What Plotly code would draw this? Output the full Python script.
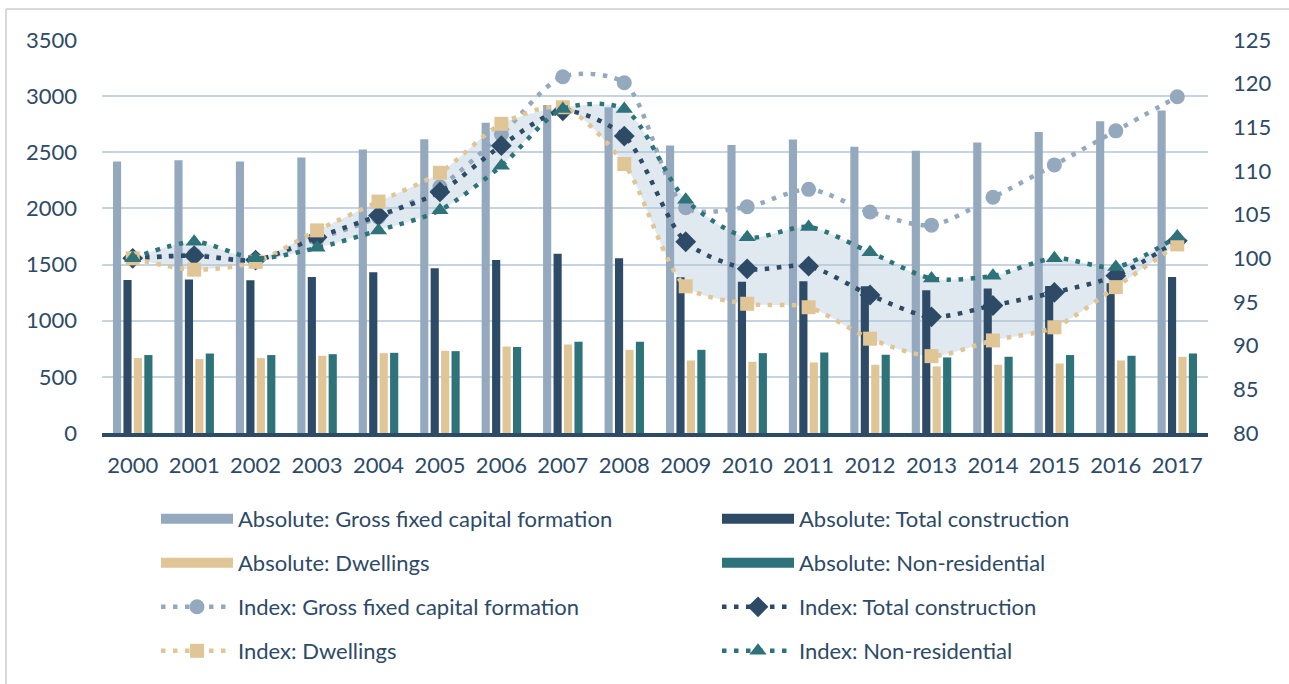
import plotly.graph_objects as go

years = [str(y) for y in range(2000, 2018)]

abs_gfcf = [2418, 2430, 2418, 2454, 2525, 2617, 2762, 2922, 2902, 2561, 2564, 2614, 2549, 2513, 2588, 2680, 2777, 2872]
abs_total = [1363, 1366, 1360, 1390, 1431, 1467, 1541, 1597, 1556, 1387, 1346, 1352, 1307, 1271, 1286, 1310, 1334, 1390]
abs_dw = [667, 658, 667, 688, 711, 732, 771, 788, 741, 646, 634, 628, 608, 593, 608, 619, 646, 679]
abs_nr = [694, 708, 694, 702, 714, 729, 765, 812, 812, 741, 711, 717, 697, 673, 679, 694, 688, 708]

idx_gfcf = [100.0, 100.4, 99.8, 102.2, 104.7, 108.2, 114.2, 120.8, 120.1, 105.8, 105.9, 107.9, 105.3, 103.8, 107.0, 110.7, 114.6, 118.5]
idx_total = [100.0, 100.3, 99.8, 102.4, 104.9, 107.6, 112.9, 116.9, 114.0, 101.9, 98.8, 99.1, 95.8, 93.3, 94.6, 96.1, 98.0, 102.0]
idx_dw = [100.0, 98.7, 99.6, 103.2, 106.5, 109.8, 115.4, 117.3, 110.8, 96.8, 94.8, 94.4, 90.8, 88.8, 90.6, 92.1, 96.7, 101.6]
idx_nr = [100.0, 101.9, 100.0, 101.2, 103.2, 105.5, 110.6, 117.1, 117.1, 106.7, 102.4, 103.6, 100.7, 97.7, 98.0, 100.0, 99.0, 102.5]

left_ticks = [0, 500, 1000, 1500, 2000, 2500, 3000, 3500]
right_ticks = [80, 85, 90, 95, 100, 105, 110, 115, 120, 125]

C_GFCF = "#94a9bd"
C_TOTAL = "#2d4a66"
C_DW = "#e0c596"
C_NR = "#2e727a"
C_TEXT = "#2d4a66"
FONT = "Lato"

band_hi = [max(a, b) for a, b in zip(idx_dw, idx_nr)]
band_lo = [min(a, b) for a, b in zip(idx_dw, idx_nr)]

fig = go.Figure()

# shaded band between dwellings and non-residential index (bottom layer)
fig.add_trace(go.Scatter(x=years, y=band_lo, mode="lines", line=dict(width=0, shape="spline", smoothing=0.8),
                         showlegend=False, hoverinfo="skip", yaxis="y"))
fig.add_trace(go.Scatter(x=years, y=band_hi, mode="lines", line=dict(width=0, shape="spline", smoothing=0.8),
                         fill="tonexty", fillcolor="rgba(176,196,216,0.38)",
                         showlegend=False, hoverinfo="skip", yaxis="y"))

bars = [
    ("Absolute: Gross fixed capital formation", abs_gfcf, C_GFCF, "legend"),
    ("Absolute: Total construction", abs_total, C_TOTAL, "legend2"),
    ("Absolute: Dwellings", abs_dw, C_DW, "legend3"),
    ("Absolute: Non-residential", abs_nr, C_NR, "legend4"),
]
for name, vals, col, lg in bars:
    fig.add_trace(go.Bar(x=years, y=vals, name=name, marker=dict(color=col, line=dict(width=0)),
                         yaxis="y2", showlegend=False))
    # legend key (wide swatch) - no data
    fig.add_trace(go.Scatter(x=[None], y=[None], mode="lines", name=name,
                             line=dict(color=col, width=17), yaxis="y2", legend=lg, hoverinfo="skip"))

lines = [
    ("Index: Gross fixed capital formation", idx_gfcf, C_GFCF, "circle", 15, "legend5"),
    ("Index: Total construction", idx_total, C_TOTAL, "diamond", 16, "legend6"),
    ("Index: Dwellings", idx_dw, C_DW, "square", 14, "legend7"),
    ("Index: Non-residential", idx_nr, C_NR, "triangle-up", 15, "legend8"),
]
for name, vals, col, sym, sz, lg in lines:
    fig.add_trace(go.Scatter(x=years, y=vals, name=name, mode="lines+markers",
                             line=dict(color=col, width=4.5, dash="4.5px,7.5px", shape="spline", smoothing=0.8),
                             marker=dict(symbol=sym, size=sz, color=col, line=dict(width=0)),
                             yaxis="y3", legend=lg))

H = 684.0
W = 1289.0
rows = [519, 563, 607, 651]
cols = [156, 717]
legend_layout = {}
names = ["legend", "legend2", "legend3", "legend4", "legend5", "legend6", "legend7", "legend8"]
for i, lg in enumerate(names):
    r = i // 2
    c = i % 2
    legend_layout[lg] = dict(
        x=cols[c] / W, y=1 - rows[r] / H, xref="container", yref="container",
        xanchor="left", yanchor="middle", orientation="h",
        font=dict(family=FONT, size=22, color=C_TEXT),
        itemwidth=72, bgcolor="rgba(0,0,0,0)", borderwidth=0,
    )

fig.update_layout(
    width=1289, height=684,
    margin=dict(l=102, r=81, t=40, b=251),
    paper_bgcolor="white", plot_bgcolor="white",
    barmode="group", bargap=0.32, bargroupgap=0.22,
    font=dict(family=FONT, color=C_TEXT),
    xaxis=dict(type="category", range=[-0.5, 17.5], showgrid=False, showline=True, linecolor=C_TOTAL,
               linewidth=4, tickfont=dict(family=FONT, size=22, color=C_TEXT), ticks="",
               ticklabelstandoff=10, anchor="y"),
    yaxis=dict(range=[80, 125], visible=False, showgrid=False, fixedrange=True),
    yaxis2=dict(range=[0, 3500], tickvals=left_ticks, overlaying="y", side="left", showgrid=True,
                gridcolor="#c6d4e1", gridwidth=1.6, zeroline=False, showline=False,
                tickfont=dict(family=FONT, size=22, color=C_TEXT), ticklabelstandoff=24, ticks=""),
    yaxis3=dict(range=[80, 125], tickvals=right_ticks, overlaying="y", side="right", showgrid=False,
                zeroline=False, showline=False,
                tickfont=dict(family=FONT, size=22, color=C_TEXT), ticklabelstandoff=24, ticks=""),
    showlegend=True,
    **legend_layout,
    shapes=[
        dict(type="line", xref="paper", yref="paper", x0=(6 - 102) / 1106, x1=(1289 - 102) / 1106,
             y0=(433 - 9) / 393, y1=(433 - 9) / 393, line=dict(color="#d9d9d9", width=2)),
        dict(type="line", xref="paper", yref="paper", x0=(6 - 102) / 1106, x1=(6 - 102) / 1106,
             y0=(433 - 9) / 393, y1=(433 - 684) / 393, line=dict(color="#d9d9d9", width=2)),
    ],
)

fig.write_html("out.html", config={"displayModeBar": False},
               post_script="document.body.style.margin='0px';")
